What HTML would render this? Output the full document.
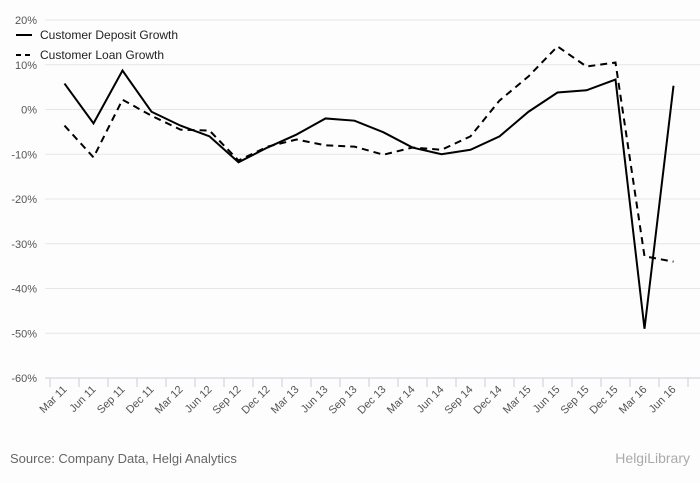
<!DOCTYPE html>
<html><head><meta charset="utf-8"><style>
body{margin:0;background:#fdfdfd;font-family:"Liberation Sans",sans-serif;}
svg{display:block}
</style></head><body>
<svg id="chart" width="700" height="483" xmlns="http://www.w3.org/2000/svg">
<rect width="700" height="483" fill="#fdfdfd"/>
<g id="grid"></g><g id="xaxis"></g><g id="lines"></g>
<g font-size="12" fill="#222">
<line x1="16" y1="35" x2="32" y2="35" stroke="#000" stroke-width="2"/>
<text x="40" y="39">Customer Deposit Growth</text>
<line x1="16" y1="55" x2="32" y2="55" stroke="#000" stroke-width="2" stroke-dasharray="5,4"/>
<text x="40" y="59">Customer Loan Growth</text>
</g>
<text x="10" y="463" font-size="13" fill="#666">Source: Company Data, Helgi Analytics</text>
<text x="690" y="463" font-size="14" fill="#aaa" text-anchor="end">HelgiLibrary</text>
</svg>
<script>
const categories=["Mar 11","Jun 11","Sep 11","Dec 11","Mar 12","Jun 12","Sep 12","Dec 12","Mar 13","Jun 13","Sep 13","Dec 13","Mar 14","Jun 14","Sep 14","Dec 14","Mar 15","Jun 15","Sep 15","Dec 15","Mar 16","Jun 16"];
const depositGrowth=[5.8,-3.1,8.7,-0.5,-3.6,-6,-11.8,-8.5,-5.6,-2,-2.5,-5.1,-8.5,-10,-9,-6,-0.5,3.8,4.3,6.7,-49,5.3];
const loanGrowth=[-3.6,-10.7,2.2,-1.4,-4.5,-4.7,-11.4,-8.3,-6.7,-8,-8.3,-10.1,-8.5,-9,-6,2,7.4,14.1,9.6,10.5,-32.8,-34];
const yTicks=[20,10,0,-10,-20,-30,-40,-50,-60];
const NS="http://www.w3.org/2000/svg";
const x0=50,step=29,yTop=20,yBot=378;
function xs(i){return x0+step*(i+0.5);}
function ys(v){return yTop+(20-v)/80*(yBot-yTop);}
function mk(t,a,p){const e=document.createElementNS(NS,t);for(const k in a)e.setAttribute(k,a[k]);p.appendChild(e);return e;}
const grid=document.getElementById('grid');
yTicks.forEach(v=>{
 const l=mk('line',{x1:45,x2:700,y1:ys(v),y2:ys(v),stroke:v===-60?'#c8d0dc':'#e6e6e6','stroke-width':1},grid);
 
 
 const t=mk('text',{x:37,y:ys(v)+4,'text-anchor':'end','font-size':11,fill:'#555'},grid);
 t.textContent=v+'%';
 
 
});
const xa=document.getElementById('xaxis');
for(let i=0;i<=categories.length;i++){
 const tk=mk('line',{x1:x0+step*i,x2:x0+step*i,y1:yBot,y2:yBot+9,stroke:'#c8d0dc'},xa);
 
 
}
categories.forEach((c,i)=>{
 const x=xs(i)+3,y=yBot+12;
 const t=mk('text',{x:x,y:y,'text-anchor':'end','font-size':11,fill:'#555',transform:`rotate(-45 ${x} ${y})`},xa);
 t.textContent=c;
 
 
});
const lg=document.getElementById('lines');
function series(d,dash,name){
 const p=mk('path',{d:d.map((v,i)=>(i?'L':'M')+xs(i)+' '+ys(v)).join(''),fill:'none',stroke:'#000','stroke-width':2,'stroke-dasharray':dash},lg);
 
 
}
series(depositGrowth,'none','deposit-growth-line');
series(loanGrowth,'7,5','loan-growth-line');
</script>
</body></html>
